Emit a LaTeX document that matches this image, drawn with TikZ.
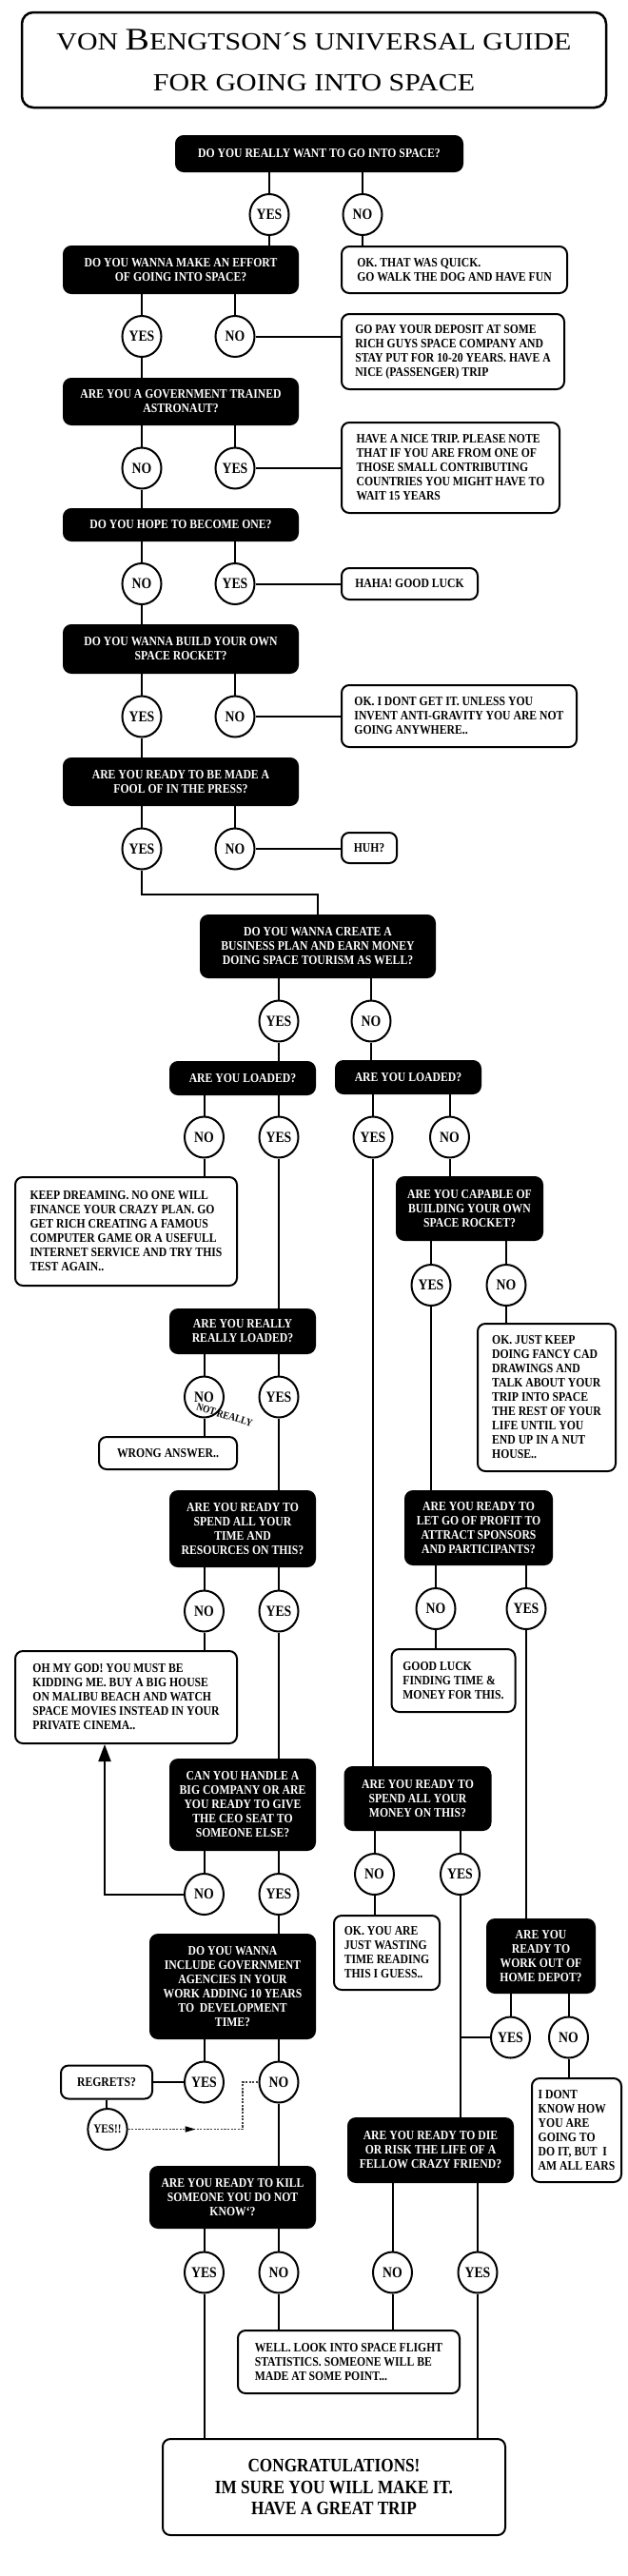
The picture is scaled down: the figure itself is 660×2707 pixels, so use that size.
\documentclass[tikz,border=0pt]{standalone}
\usepackage{fontspec}
\setmainfont{Liberation Serif}[FakeStretch=0.86]
\newfontfamily\titlefont{Liberation Serif}[FakeStretch=1.15]
\usetikzlibrary{arrows.meta, shapes.geometric, decorations.markings}
\tikzset{
  sz/.style 2 args={minimum width=#1pt, minimum height=#2pt},
  q/.style={draw=black, fill=black, line width=2pt, rounded corners=8pt, text=white, align=center, inner sep=0pt, font=\fontsize{13.6}{15}\selectfont\bfseries},
  ans/.style={draw=black, fill=white, line width=2pt, rounded corners=8pt, align=left, inner sep=0pt, font=\fontsize{13.6}{15}\selectfont\bfseries},
  yn/.style={ellipse, draw=black, fill=white, line width=2pt, inner sep=0pt, sz={41}{43}, font=\fontsize{16}{16}\selectfont\bfseries},
  link/.style={line width=2pt},
  dots/.style={draw=black!75, dash pattern=on 2.2pt off 1.4pt, line width=1.4pt, postaction={decorate},
    decoration={markings, mark=at position 71pt with {\arrow[black]{Triangle[length=11pt,width=6pt]}}}}
}

\begin{document}
\begin{tikzpicture}[x=1pt, y=-1pt]
  \useasboundingbox (0,0) rectangle (660,2707);

  \node[draw, line width=2.5pt, rounded corners=12pt, sz={614}{100}, align=center, inner sep=0pt,
    font={\titlefont\fontsize{26}{43}\selectfont}] (title) at (330,63)
    {VON {\fontsize{33}{43}\selectfont B}ENGTSON´S UNIVERSAL GUIDE\\FOR GOING INTO SPACE};

  % first column of questions
  \node[q, sz={301}{37}] (q1) at (335.5,161.5) {DO YOU REALLY WANT TO GO INTO SPACE?};
  \node[yn] (y1) at (283,225.5) {YES};
  \node[yn] (n1) at (381,225.5) {NO};
  \node[q, sz={246}{49}] (q2) at (190,283.5) {DO YOU WANNA MAKE AN EFFORT\\OF GOING INTO SPACE?};
  \node[ans, sz={237}{49}] (r1) at (477.5,283.5) {OK. THAT WAS QUICK.\\GO WALK THE DOG AND HAVE FUN};
  \node[yn] (y2) at (149,353.5) {YES};
  \node[yn] (n2) at (247,353.5) {NO};
  \node[ans, sz={234}{79}] (r2) at (476,369.5) {GO PAY YOUR DEPOSIT AT SOME\\RICH GUYS SPACE COMPANY AND\\STAY PUT FOR 10-20 YEARS. HAVE A\\NICE (PASSENGER) TRIP};
  \node[q, sz={246}{48}] (q3) at (190,422) {ARE YOU A GOVERNMENT TRAINED\\ASTRONAUT?};
  \node[yn] (n3) at (149,492) {NO};
  \node[yn] (y3) at (247,492) {YES};
  \node[ans, sz={229}{95}] (r3) at (473.5,491.5) {HAVE A NICE TRIP. PLEASE NOTE\\THAT IF YOU ARE FROM ONE OF\\THOSE SMALL CONTRIBUTING\\COUNTRIES YOU MIGHT HAVE TO\\WAIT 15 YEARS};
  \node[q, sz={246}{33}] (q4) at (190,551.5) {DO YOU HOPE TO BECOME ONE?};
  \node[yn] (n4) at (149,613.5) {NO};
  \node[yn] (y4) at (247,613.5) {YES};
  \node[ans, sz={143}{33}] (r4) at (430.5,613.5) {HAHA! GOOD LUCK};
  \node[q, sz={246}{50}] (q5) at (190,682) {DO YOU WANNA BUILD YOUR OWN\\SPACE ROCKET?};
  \node[yn] (y5) at (149,753) {YES};
  \node[yn] (n5) at (247,753) {NO};
  \node[ans, sz={247}{65}] (r5) at (482.5,752.5) {OK. I DONT GET IT. UNLESS YOU\\INVENT ANTI-GRAVITY YOU ARE NOT\\GOING ANYWHERE..};
  \node[q, sz={246}{49}] (q6) at (190,821.5) {ARE YOU READY TO BE MADE A\\FOOL OF IN THE PRESS?};
  \node[yn] (y6) at (149,892) {YES};
  \node[yn] (n6) at (247,892) {NO};
  \node[ans, sz={58}{32}] (r6) at (388,891) {HUH?};

  % business plan
  \node[q, sz={246}{65}] (q7) at (334,994.5) {DO YOU WANNA CREATE A\\BUSINESS PLAN AND EARN MONEY\\DOING SPACE TOURISM AS WELL?};
  \node[yn] (y7) at (293,1073) {YES};
  \node[yn] (n7) at (390,1073) {NO};
  \node[q, sz={152}{34}] (q8l) at (255,1133) {ARE YOU LOADED?};
  \node[q, sz={152}{34}] (q8r) at (429,1132) {ARE YOU LOADED?};
  \node[yn] (n8l) at (214.5,1195) {NO};
  \node[yn] (y8l) at (293,1195) {YES};
  \node[yn] (y8r) at (392,1195) {YES};
  \node[yn] (n8r) at (472.5,1195) {NO};
  \node[ans, sz={233}{114}] (r8l) at (132.5,1294) {KEEP DREAMING. NO ONE WILL\\FINANCE YOUR CRAZY PLAN. GO\\GET RICH CREATING A FAMOUS\\COMPUTER GAME OR A USEFULL\\INTERNET SERVICE AND TRY THIS\\TEST AGAIN..};
  \node[q, sz={153}{66}] (q9r) at (493.5,1270) {ARE YOU CAPABLE OF\\BUILDING YOUR OWN\\SPACE ROCKET?};
  \node[yn] (y9r) at (453,1350.5) {YES};
  \node[yn] (n9r) at (532,1350.5) {NO};
  \node[ans, sz={145}{155}] (r9r) at (574.5,1468.5) {OK. JUST KEEP\\DOING FANCY CAD\\DRAWINGS AND\\TALK ABOUT YOUR\\TRIP INTO SPACE\\THE REST OF YOUR\\LIFE UNTIL YOU\\END UP IN A NUT\\HOUSE..};
  \node[q, sz={152}{46}] (q9l) at (255,1399) {ARE YOU REALLY\\REALLY LOADED?};
  \node[yn] (n9l) at (214.5,1468) {NO};
  \node[yn] (y9l) at (293,1468) {YES};
  \node[rotate=-17, inner sep=0pt, font=\fontsize{11}{11}\selectfont\bfseries] (notreally) at (236,1487) {NOT\,REALLY};
  \node[ans, sz={145}{34}] (r9l) at (176.5,1527) {WRONG ANSWER..};
  \node[q, sz={152}{79}] (q10l) at (255,1606.5) {ARE YOU READY TO\\SPEND ALL YOUR\\TIME AND\\RESOURCES ON THIS?};
  \node[q, sz={154}{77}] (q10r) at (503,1605.5) {ARE YOU READY TO\\LET GO OF PROFIT TO\\ATTRACT SPONSORS\\AND PARTICIPANTS?};
  \node[yn] (n10l) at (214.5,1693) {NO};
  \node[yn] (y10l) at (293,1693) {YES};
  \node[yn] (n10r) at (458,1690.5) {NO};
  \node[yn] (y10r) at (553,1690.5) {YES};
  \node[ans, sz={233}{97}] (r10l) at (132.5,1783.5) {OH MY GOD! YOU MUST BE\\KIDDING ME. BUY A BIG HOUSE\\ON MALIBU BEACH AND WATCH\\SPACE MOVIES INSTEAD IN YOUR\\PRIVATE CINEMA..};
  \node[ans, sz={130}{66}] (r10r) at (476.5,1766) {GOOD LUCK\\FINDING TIME \&\\MONEY FOR THIS.};
  \node[q, sz={152}{95}] (q11l) at (255,1896.5) {CAN YOU HANDLE A\\BIG COMPANY OR ARE\\YOU READY TO GIVE\\THE CEO SEAT TO\\SOMEONE ELSE?};
  \node[q, sz={153}{66}] (q11r) at (439,1890) {ARE YOU READY TO\\SPEND ALL YOUR\\MONEY ON THIS?};
  \node[yn] (n11l) at (214.5,1990.5) {NO};
  \node[yn] (y11l) at (293,1990.5) {YES};
  \node[yn] (n11r) at (393.5,1969.5) {NO};
  \node[yn] (y11r) at (483.5,1969.5) {YES};
  \node[ans, sz={111}{78}] (r11r) at (406.5,2052) {OK. YOU ARE\\JUST WASTING\\TIME READING\\THIS I GUESS..};
  \node[q, sz={113}{77}] (q12r) at (568.5,2055.5) {ARE YOU\\READY TO\\WORK OUT OF\\HOME DEPOT?};
  \node[yn] (y12r) at (536.5,2141) {YES};
  \node[yn] (n12r) at (597.5,2141) {NO};
  \node[ans, sz={94}{109}] (r12r) at (606,2238.5) {I DONT\\KNOW HOW\\YOU ARE\\GOING TO\\DO IT, BUT~~I\\AM ALL EARS};
  \node[q, sz={173}{109}] (q12l) at (244.5,2087.5) {DO YOU WANNA\\INCLUDE GOVERNMENT\\AGENCIES IN YOUR\\WORK ADDING 10 YEARS\\TO~~DEVELOPMENT\\TIME?};
  \node[yn] (y12l) at (214.5,2188) {YES};
  \node[yn] (n12l) at (293,2188) {NO};
  \node[ans, align=center, sz={96}{35}] (regrets) at (112,2188) {REGRETS?};
  \node[yn, font=\fontsize{13}{13}\selectfont\bfseries] (yy) at (113,2237.5) {YES!!};
  \node[q, sz={173}{67}] (q13r) at (452.5,2259.5) {ARE YOU READY TO DIE\\OR RISK THE LIFE OF A\\FELLOW CRAZY FRIEND?};
  \node[q, sz={173}{64}] (q13l) at (244.5,2309) {ARE YOU READY TO KILL\\SOMEONE YOU DO NOT\\KNOW`?};
  \node[yn] (y13l) at (214.5,2388) {YES};
  \node[yn] (n13l) at (293,2388) {NO};
  \node[yn] (n13r) at (412.5,2388) {NO};
  \node[yn] (y13r) at (502,2388) {YES};
  \node[ans, sz={233}{66}] (r13) at (366.5,2482) {WELL. LOOK INTO SPACE FLIGHT\\STATISTICS. SOMEONE WILL BE\\MADE AT SOME POINT...};
  \node[ans, align=center, sz={360}{101}, font=\fontsize{20}{22.5}\selectfont\bfseries] (fin) at (351,2613.5) {CONGRATULATIONS!\\IM SURE YOU WILL MAKE IT.\\HAVE A GREAT TRIP};

  % answers hanging under the boxes
  \foreach \a/\b in {q1/y1, q1/n1, q2/y2, q2/n2, q3/n3, q3/y3, q4/n4, q4/y4, q5/y5, q5/n5,
      q6/y6, q6/n6, q7/y7, q7/n7, q8l/n8l, q8l/y8l, q8r/y8r, q8r/n8r, q9r/y9r, q9r/n9r,
      q9l/n9l, q9l/y9l, q10l/n10l, q10l/y10l, q10r/n10r, q10r/y10r, q11l/n11l, q11l/y11l,
      q11r/n11r, q11r/y11r, q12r/y12r, q12r/n12r, q12l/y12l, q12l/n12l, q13l/y13l, q13l/n13l,
      q13r/n13r, q13r/y13r}
    \draw[link] (\b.north |- \a.south) -- (\b.north);
  \foreach \a/\b in {y1/q2, n1/r1, y2/q3, n3/q4, n4/q5, y5/q6, y7/q8l, n7/q8r, n8l/r8l,
      n8r/q9r, y8l/q9l, y8r/q11r, y9r/q10r, n9r/r9r, n9l/r9l, y9l/q10l, n10l/r10l, y10l/q11l,
      n10r/r10r, y10r/q12r, y11l/q12l, n11r/r11r, y11r/q13r, n12r/r12r, n12l/q13l, regrets/yy,
      y13l/fin, n13l/r13, n13r/r13, y13r/fin}
    \draw[link] (\a.south) -- (\a.south |- \b.north);
  \foreach \a/\b in {n2/r2, y3/r3, y4/r4, n5/r5, n6/r6}
    \draw[link] (\a.east) -- (\a.east -| \b.west);
  \draw[link] (y12l.west) -- (regrets.east);
  \draw[link] (y12r.west) -- (y12r.west -| y11r.south);
  \draw[link] (y6.south) -- ++(0,25.5) -| (q7.north);
  \coordinate (elbow) at (110,1990.5);
  \draw[link, -{Triangle[length=18pt,width=13pt]}] (n11l.west) -- (elbow) -- (elbow |- r10l.south);
  \draw[dots] (yy.east) -- ++(120.5,0) |- (n12l.west);
\end{tikzpicture}
\end{document}
